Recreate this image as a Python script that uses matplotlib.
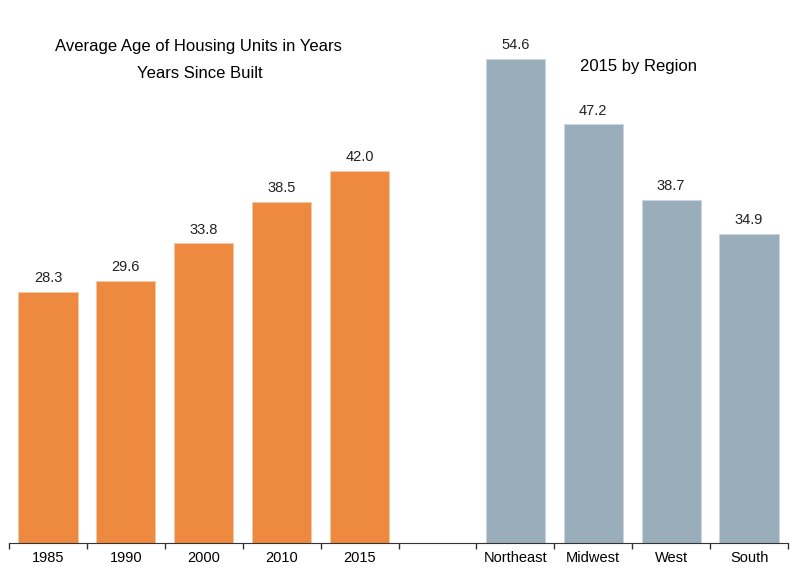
import numpy as np
import matplotlib.pyplot as plt

plt.rcParams['font.family'] = ['Liberation Sans', 'DejaVu Sans']

years = ['1985', '1990', '2000', '2010', '2015']
year_ages = [28.3, 29.6, 33.8, 38.5, 42.0]
regions = ['Northeast', 'Midwest', 'West', 'South']
region_ages = [54.6, 47.2, 38.7, 34.9]

orange = '#ED8A3F'
grey = '#9AADBB'

fig = plt.figure(figsize=(8, 5.83), dpi=100)
ax = fig.add_axes([9 / 800, 40 / 583, 779 / 800, 532 / 583])

x_years = np.arange(len(years))
x_regions = np.arange(len(regions)) + len(years) + 1

b1 = ax.bar(x_years, year_ages, width=0.76, color=orange, edgecolor='#F6C7A3', linewidth=0.6)
b2 = ax.bar(x_regions, region_ages, width=0.76, color=grey, edgecolor='#CDD6DE', linewidth=0.6)

for bars in (b1, b2):
    for b in bars:
        ax.text(b.get_x() + b.get_width() / 2, b.get_height() + 0.75,
                '{:.1f}'.format(b.get_height()), ha='center', va='bottom',
                fontsize=10.5, color='#222222')

ax.set_xlim(-0.5, len(years) + len(regions) + 0.5)
ax.set_ylim(0, 60)

labels = years + [''] + regions
ax.set_xticks(np.arange(len(labels)))
ax.set_xticklabels(labels, fontsize=10.5)
ax.set_xticks(np.arange(len(labels) + 1) - 0.5, minor=True)
ax.tick_params(axis='x', which='major', length=0, pad=6)
ax.tick_params(axis='x', which='minor', length=4, width=1, color='#333333')
ax.set_yticks([])
for s in ['top', 'right', 'left']:
    ax.spines[s].set_visible(False)
ax.spines['bottom'].set_color('#333333')

fig.text(198 / 800, 1 - 46 / 583, 'Average Age of Housing Units in Years',
         ha='center', va='center', fontsize=12)
fig.text(200 / 800, 1 - 73 / 583, 'Years Since Built',
         ha='center', va='center', fontsize=12)
fig.text(638 / 800, 1 - 66 / 583, '2015 by Region',
         ha='center', va='center', fontsize=12)

plt.savefig('out.png', dpi=100)
